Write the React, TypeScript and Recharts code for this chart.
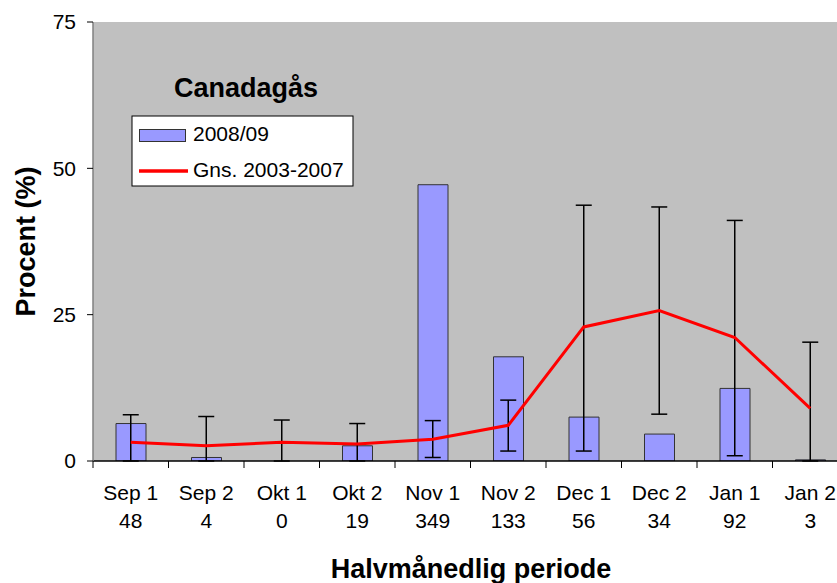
import React from 'react';
import { ComposedChart, Bar, Line, XAxis, YAxis, CartesianGrid, ErrorBar } from 'recharts';

const categories = ['Sep 1', 'Sep 2', 'Okt 1', 'Okt 2', 'Nov 1', 'Nov 2', 'Dec 1', 'Dec 2', 'Jan 1', 'Jan 2'];
const counts = ['48', '4', '0', '19', '349', '133', '56', '34', '92', '3'];
const season2008 = [6.4, 0.6, 0, 2.6, 47.2, 17.8, 7.5, 4.6, 12.4, 0.2];
const avg2003_2007 = [3.2, 2.6, 3.2, 2.9, 3.7, 6.1, 22.9, 25.7, 21.1, 9.0];
const avgLow = [0, 0, 0, 0, 0.6, 1.7, 1.7, 8.0, 0.9, 0];
const avgHigh = [7.9, 7.6, 7.0, 6.4, 6.9, 10.4, 43.7, 43.4, 41.1, 20.3];
const yTicks = [0, 25, 50, 75];

const data = categories.map((c, i) => ({
  cat: c,
  n: counts[i],
  bar: season2008[i],
  avg: avg2003_2007[i],
  err: [avg2003_2007[i] - avgLow[i], avgHigh[i] - avg2003_2007[i]],
}));

const FONT = '"Liberation Sans", Arial, sans-serif';
const BAND = 75.5;

const XTick = (props: any) => {
  const { x, y, payload, index } = props;
  const idx = typeof index === 'number' ? index : payload.index;
  return (
    <g>
      <line x1={x - BAND / 2} x2={x - BAND / 2} y1={y} y2={y + 7} stroke="#000" strokeWidth={1} />
      <text x={x} y={y + 39} textAnchor="middle" fontSize={21} fontFamily={FONT} fill="#000">
        {payload.value}
      </text>
      <text x={x} y={y + 67} textAnchor="middle" fontSize={21} fontFamily={FONT} fill="#000">
        {counts[idx]}
      </text>
    </g>
  );
};

export default function App() {
  return (
    <div
      style={{
        position: 'fixed',
        left: 0,
        top: 0,
        width: 837,
        height: 583,
        overflow: 'hidden',
        background: '#fff',
      }}
    >
      <ComposedChart
        width={860}
        height={583}
        data={data}
        margin={{ top: 22, right: 12, bottom: 0, left: 0 }}
      >
        <CartesianGrid fill="#C0C0C0" horizontal={false} vertical={false} stroke="none" />
        <XAxis
          dataKey="cat"
          height={122}
          tickSize={0}
          tickMargin={0}
          tickLine={false}
          axisLine={{ stroke: '#000', strokeWidth: 1.5 }}
          tick={<XTick />}
          interval={0}
        />
        <YAxis
          width={93}
          domain={[0, 75]}
          ticks={yTicks}
          allowDataOverflow
          tickSize={6}
          tickMargin={11}
          tickLine={{ stroke: '#000' }}
          axisLine={{ stroke: '#808080', strokeWidth: 1.5 }}
          tick={{ fontSize: 21, fontFamily: FONT, fill: '#000' }}
        />
        <Bar dataKey="bar" barSize={30} fill="#9999FF" stroke="#333" strokeWidth={1} isAnimationActive={false} />
        <Line
          dataKey="avg"
          stroke="#FF0000"
          strokeWidth={3}
          dot={false}
          activeDot={false}
          isAnimationActive={false}
        >
          <ErrorBar dataKey="err" direction="y" width={8} stroke="#000" strokeWidth={1.5} isAnimationActive={false} />
        </Line>
      </ComposedChart>
      <svg
        width={837}
        height={583}
        style={{ position: 'absolute', left: 0, top: 0, pointerEvents: 'none' }}
      >
        <text x={246} y={97} textAnchor="middle" fontSize={27} fontWeight="bold" fontFamily={FONT} fill="#000">
          Canadagås
        </text>
        <rect x={132} y={116} width={221} height={70} fill="#fff" stroke="#000" strokeWidth={1} />
        <rect x={139.5} y={129.5} width={46} height={12} fill="#9999FF" stroke="#333" strokeWidth={1} />
        <text x={193} y={141} fontSize={21} fontFamily={FONT} fill="#000">2008/09</text>
        <line x1={139} x2={188} y1={171} y2={171} stroke="#FF0000" strokeWidth={3.5} />
        <text x={193} y={177} fontSize={21} fontFamily={FONT} fill="#000">Gns. 2003-2007</text>
        <text
          x={35}
          y={241.5}
          transform="rotate(-90, 35, 241.5)"
          textAnchor="middle"
          fontSize={27}
          fontWeight="bold"
          fontFamily={FONT}
          fill="#000"
        >
          Procent (%)
        </text>
        <text x={471} y={578} textAnchor="middle" fontSize={27} fontWeight="bold" fontFamily={FONT} fill="#000">
          Halvmånedlig periode
        </text>
      </svg>
    </div>
  );
}
